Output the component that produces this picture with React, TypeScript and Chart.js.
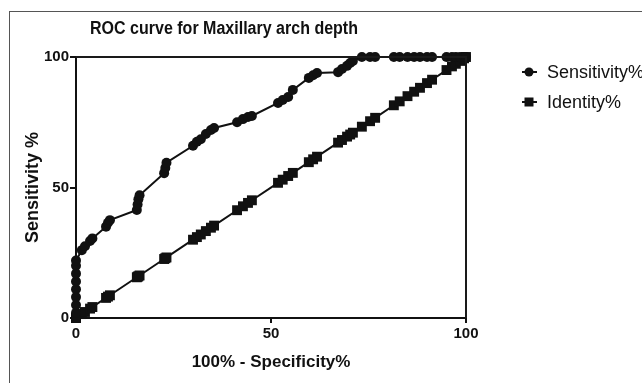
import React, { useEffect, useRef } from "react";
import { Chart, registerables } from "chart.js";

Chart.register(...registerables);

const chartTitle = "ROC curve for Maxillary arch depth";
const xAxisTitle = "100% - Specificity%";
const yAxisTitle = "Sensitivity %";
const seriesNames = ["Sensitivity%", "Identity%"];
const tickValues = [0, 50, 100];

// 100% - Specificity% (x values)
const oneMinusSpecificity = [
  0, 0, 0, 0, 0, 0, 0, 0, 0,
  1.5, 2.3, 3.6, 4.2,
  7.7, 8.2, 8.7,
  15.6, 15.8, 16.0, 16.3,
  22.6, 22.9, 23.2,
  30.0, 31.0, 32.0, 33.3, 34.6, 35.4,
  41.3, 42.8, 44.1, 45.1,
  51.8, 53.0, 54.4, 55.6,
  59.7, 60.8, 61.8,
  67.2, 68.2, 69.5, 70.3, 71.0,
  73.3, 75.4, 76.7,
  81.5, 83.0, 85.0, 86.7, 88.2, 90.0, 91.3,
  95.0, 96.4, 97.4, 98.5, 99.5, 100,
];

const sensitivity = [
  0, 2, 5, 8, 11, 14, 17, 20, 22,
  26, 27.5, 29.5, 30.5,
  35, 36.5, 37.5,
  41.4, 43.5, 45.5, 47,
  55.5, 57.5, 59.5,
  66, 67.5, 68.5, 70.5, 72, 72.8,
  75, 76.2, 77, 77.4,
  82.4, 83.5, 84.7, 87.4,
  92, 93, 93.9,
  94.2, 95.4, 96.6, 97.7, 98.5,
  100, 100, 100,
  100, 100, 100, 100, 100, 100, 100,
  100, 100, 100, 100, 100, 100,
];

const identity = [
  0, 0, 0, 0, 0, 0, 0, 0, 0,
  1.5, 2.3, 3.6, 4.2,
  7.7, 8.2, 8.7,
  15.6, 15.8, 16.0, 16.3,
  22.6, 22.9, 23.2,
  30.0, 31.0, 32.0, 33.3, 34.6, 35.4,
  41.3, 42.8, 44.1, 45.1,
  51.8, 53.0, 54.4, 55.6,
  59.7, 60.8, 61.8,
  67.2, 68.2, 69.5, 70.3, 71.0,
  73.3, 75.4, 76.7,
  81.5, 83.0, 85.0, 86.7, 88.2, 90.0, 91.3,
  95.0, 96.4, 97.4, 98.5, 99.5, 100,
];

const FONT = "'Liberation Sans', Arial, sans-serif";

const decorPlugin = {
  id: "decor",
  afterDraw(chart: any) {
    const { ctx, chartArea } = chart;
    const { left, right, top, bottom } = chartArea;
    ctx.save();
    // frame top & right
    ctx.strokeStyle = "#1a1a1a";
    ctx.lineWidth = 2;
    ctx.beginPath();
    ctx.moveTo(left, top);
    ctx.lineTo(right, top);
    ctx.lineTo(right, bottom);
    ctx.stroke();

    // title (slightly condensed)
    ctx.save();
    ctx.fillStyle = "#111";
    ctx.font = `bold 18px ${FONT}`;
    ctx.textAlign = "center";
    ctx.textBaseline = "middle";
    ctx.translate(224, 29);
    ctx.scale(0.89, 1);
    ctx.fillText(chartTitle, 0, 0);
    ctx.restore();

    // legend
    const lx = 529;
    const items = [
      { y: 72, style: "circle" },
      { y: 102, style: "rect" },
    ];
    items.forEach((it, i) => {
      ctx.strokeStyle = "#111";
      ctx.lineWidth = 2;
      ctx.beginPath();
      ctx.moveTo(lx - 7, it.y);
      ctx.lineTo(lx + 8, it.y);
      ctx.stroke();
      ctx.fillStyle = "#111";
      ctx.beginPath();
      if (it.style === "circle") {
        ctx.arc(lx, it.y, 4.5, 0, Math.PI * 2);
      } else {
        ctx.rect(lx - 4.5, it.y - 4.5, 9, 9);
      }
      ctx.fill();
      ctx.font = `18px ${FONT}`;
      ctx.textAlign = "left";
      ctx.textBaseline = "middle";
      ctx.fillText(seriesNames[i], 547, it.y + 1);
    });
    ctx.restore();
  },
};

export default function App() {
  const ref = useRef<HTMLCanvasElement | null>(null);

  useEffect(() => {
    if (!ref.current) return;
    const sensData = oneMinusSpecificity.map((x, i) => ({ x, y: sensitivity[i] }));
    const identData = oneMinusSpecificity.map((x, i) => ({ x, y: identity[i] }));
    const chart = new Chart(ref.current, {
      type: "line",
      data: {
        datasets: [
          {
            label: seriesNames[0],
            data: sensData,
            borderColor: "#111",
            backgroundColor: "#111",
            borderWidth: 2,
            pointStyle: "circle",
            pointRadius: 5,
            pointBorderWidth: 0,
            tension: 0,
            clip: false as any,
          },
          {
            label: seriesNames[1],
            data: identData,
            borderColor: "#111",
            backgroundColor: "#111",
            borderWidth: 2,
            pointStyle: "rect",
            pointRadius: 7,
            pointBorderWidth: 0,
            tension: 0,
            clip: false as any,
          },
        ],
      },
      options: {
        responsive: false,
        animation: false,
        layout: { padding: { left: 0, top: 57, right: 176, bottom: 0 } },
        plugins: {
          legend: { display: false },
          title: { display: false },
          tooltip: { enabled: false },
        },
        scales: {
          x: {
            type: "linear",
            min: 0,
            max: 100,
            afterBuildTicks: (s: any) => {
              s.ticks = tickValues.map((v) => ({ value: v }));
            },
            afterFit: (s: any) => {
              s.height = 65;
            },
            ticks: {
              color: "#111",
              font: { family: FONT, size: 15, weight: "bold" },
              padding: 2,
              maxRotation: 0,
            },
            grid: {
              display: true,
              drawOnChartArea: false,
              drawTicks: true,
              tickLength: 5,
              color: "#111",
              lineWidth: 2,
            },
            border: { display: true, color: "#111", width: 2 },
            title: {
              display: true,
              text: xAxisTitle,
              color: "#111",
              font: { family: FONT, size: 17, weight: "bold" },
              padding: { top: 0, bottom: 10 },
            },
          },
          y: {
            type: "linear",
            min: 0,
            max: 100,
            afterBuildTicks: (s: any) => {
              s.ticks = tickValues.map((v) => ({ value: v }));
            },
            afterFit: (s: any) => {
              s.width = 76;
            },
            ticks: {
              color: "#111",
              font: { family: FONT, size: 15, weight: "bold" },
              padding: 1,
            },
            grid: {
              display: true,
              drawOnChartArea: false,
              drawTicks: true,
              tickLength: 6,
              color: "#111",
              lineWidth: 2,
            },
            border: { display: true, color: "#111", width: 2 },
            title: {
              display: true,
              text: yAxisTitle,
              color: "#111",
              font: { family: FONT, size: 18, weight: "bold" },
              padding: { top: 22, bottom: 0 },
            },
          },
        },
      },
      plugins: [decorPlugin],
    });
    return () => chart.destroy();
  }, []);

  return (
    <div
      style={{
        position: "fixed",
        left: 0,
        top: 0,
        width: 642,
        height: 383,
        background: "#fff",
        overflow: "hidden",
      }}
    >
      <div
        style={{
          position: "absolute",
          left: 9,
          top: 11,
          right: -5,
          bottom: -5,
          borderLeft: "1px solid #555",
          borderTop: "1px solid #555",
        }}
      />
      <canvas
        ref={ref}
        width={642}
        height={383}
        style={{ position: "absolute", left: 0, top: 0, width: 642, height: 383 }}
      />
    </div>
  );
}
